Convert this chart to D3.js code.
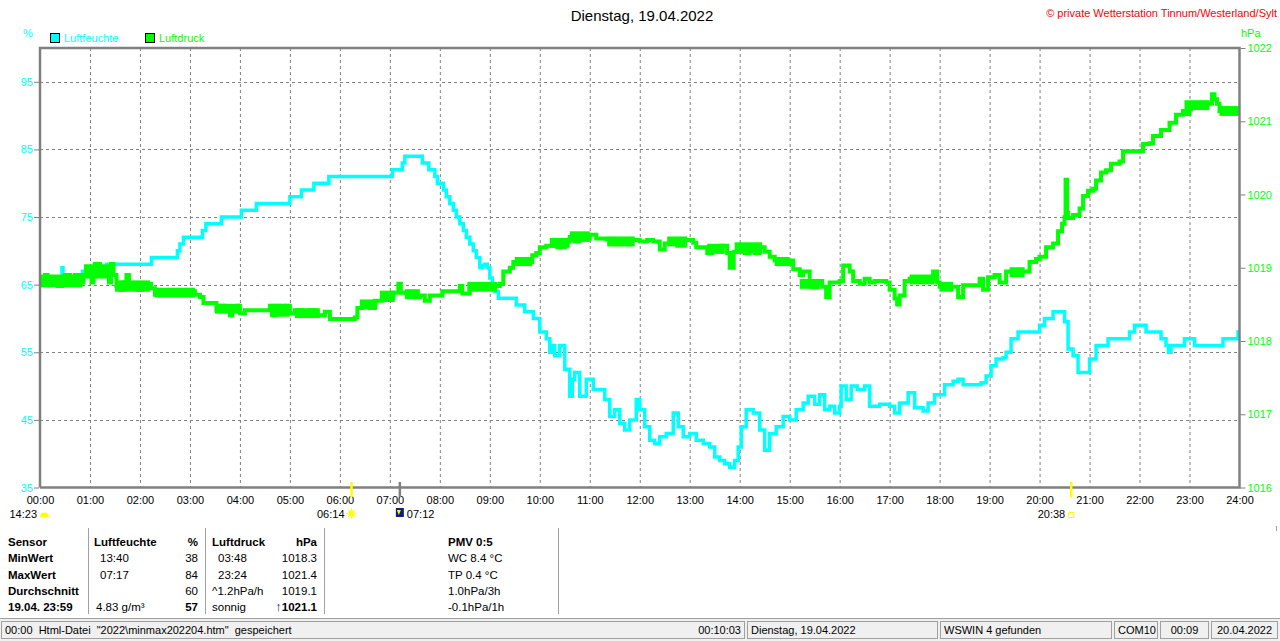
<!DOCTYPE html>
<html>
<head>
<meta charset="utf-8">
<script src="https://cdn.jsdelivr.net/npm/d3@7"></script>
<style>
  body { margin: 0; background: #fff; }
  text { font-family: "Liberation Sans", Arial, sans-serif; }
</style>
</head>
<body>
<script>
const width = 1280;
const height = 641;

// --- data ---
const title = "Dienstag, 19.04.2022";
const copyright = "\u00a9 private Wetterstation Tinnum/Westerland/Sylt";
const seriesNames = ["Luftfeuchte", "Luftdruck"];

const hourLabels = ["00:00","01:00","02:00","03:00","04:00","05:00","06:00","07:00","08:00",
  "09:00","10:00","11:00","12:00","13:00","14:00","15:00","16:00","17:00","18:00","19:00",
  "20:00","21:00","22:00","23:00","24:00"];
const humTicks = [35, 45, 55, 65, 75, 85, 95];
const presTicks = [1016, 1017, 1018, 1019, 1020, 1021, 1022];

// [hour, %]
const humidity = [[0,66],[0.42,66],[0.44,67.5],[0.46,66],[0.83,66],[0.85,67],[1.3,67],[1.33,68],
  [2.2,68],[2.23,69],[2.72,69],[2.75,70],[2.8,71],[2.87,72],[3.2,72],[3.25,73],[3.32,74],[3.6,74],
  [3.63,75],[4.0,75],[4.03,76],[4.3,76],[4.33,77],[4.97,77],[5.0,78],[5.2,78],[5.23,79],[5.45,79],
  [5.48,80],[5.75,80],[5.78,81],[7.03,81],[7.05,82],[7.2,82],[7.25,83],[7.3,84],[7.63,84],[7.65,83],
  [7.75,83],[7.78,82],[7.87,82],[7.9,81],[7.95,80],[8.0,80],[8.07,79],[8.13,78],[8.2,77],[8.27,76],
  [8.33,75],[8.4,74],[8.47,73],[8.53,72],[8.6,71],[8.67,70],[8.73,69],[8.8,67.5],[8.85,67.8],
  [8.9,68],[8.95,67.5],[9.0,66],[9.05,65],[9.1,64],[9.17,63],[9.5,63],[9.53,62],[9.7,61],[9.87,60],[10.0,58],
  [10.13,57],[10.2,55],[10.25,56],[10.3,54.5],[10.4,56],[10.5,52.5],[10.6,48.5],[10.65,51],[10.7,52],
  [10.8,48.5],[10.93,51],[11.07,49.5],[11.2,49.5],[11.3,48],[11.4,45.5],[11.5,46.5],[11.6,44.5],
  [11.7,43.5],[11.8,45],[11.93,48],[12.0,46.5],[12.1,44],[12.2,42],[12.3,41.5],[12.4,42.5],[12.53,43],
  [12.67,46],[12.77,44],[12.87,42.5],[13.0,43],[13.13,42],[13.27,41.5],[13.4,41],[13.5,39.5],[13.6,39],
  [13.7,38.5],[13.8,38],[13.9,39],[13.97,41],[14.03,44],[14.13,46.5],[14.27,46],[14.4,43.5],[14.5,40.5],
  [14.6,43],[14.73,44],[14.87,45.5],[15.0,45],[15.13,46.5],[15.27,47.5],[15.37,48.5],[15.5,47.3],
  [15.6,48.7],[15.7,46.5],[15.8,47],[15.9,46],[16.0,47],[16.03,50],[16.13,48],[16.23,50],[16.35,49.5],
  [16.5,50],[16.6,47],[16.8,47.3],[17.0,47],[17.1,46],[17.2,47.5],[17.37,49],[17.5,46.8],[17.67,46.3],
  [17.77,47.5],[17.9,48.7],[18.0,48.7],[18.1,50.2],[18.27,50.7],[18.37,51],[18.47,50.2],[18.67,50.2],
  [18.83,50.5],[18.93,51.5],[19.03,53],[19.13,54],[19.27,54.2],[19.33,55],[19.43,57],[19.57,58],
  [19.97,58],[20.0,59],[20.1,60],[20.27,61],[20.43,61],[20.5,59.5],[20.57,55.5],[20.67,54.5],[20.77,52],
  [20.9,52],[21.0,54],[21.13,56],[21.37,57],[21.77,57],[21.8,58],[21.9,59],[22.1,59],[22.13,58],
  [22.37,58],[22.43,57],[22.53,56],[22.58,55],[22.63,56],[22.87,56],[22.9,57],[23.07,57],[23.1,56],
  [23.63,56],[23.67,57],[23.93,57],[23.97,58],[24,58]];

// [hour, hPa]
const pressure = [[0,1018.8],[0.1,1018.9],[0.15,1018.8],[0.3,1018.8],[0.35,1018.75],[0.45,1018.8],
  [0.5,1018.9],[0.6,1018.8],[0.7,1018.9],[0.8,1018.8],[0.87,1018.9],[1.0,1018.95],[1.03,1018.8],
  [1.07,1018.95],[1.1,1019.05],[1.2,1019.0],[1.25,1018.9],[1.3,1018.95],[1.38,1018.8],[1.42,1019.05],
  [1.47,1018.9],[1.53,1018.75],[1.6,1018.7],[1.67,1018.8],[1.73,1018.9],[1.78,1018.75],[1.9,1018.78],
  [1.95,1018.7],[2.05,1018.78],[2.15,1018.78],[2.22,1018.72],[2.3,1018.63],[2.45,1018.68],[2.55,1018.63],
  [2.7,1018.68],[2.8,1018.63],[2.95,1018.68],[3.1,1018.63],[3.2,1018.6],[3.27,1018.52],[3.45,1018.52],
  [3.53,1018.42],[3.6,1018.48],[3.7,1018.42],[3.8,1018.35],[3.85,1018.45],[3.95,1018.48],[4.0,1018.38],
  [4.1,1018.42],[4.5,1018.42],[4.6,1018.48],[4.65,1018.35],[4.72,1018.48],[4.8,1018.38],[4.9,1018.48],
  [5.0,1018.38],[5.1,1018.42],[5.25,1018.35],[5.4,1018.42],[5.5,1018.35],[5.7,1018.4],[5.8,1018.3],
  [6.3,1018.32],[6.35,1018.45],[6.45,1018.48],[6.6,1018.45],[6.7,1018.55],[6.85,1018.58],[7.0,1018.6],
  [7.07,1018.66],[7.17,1018.78],[7.22,1018.66],[7.4,1018.66],[7.5,1018.6],[7.6,1018.62],[7.7,1018.55],
  [7.8,1018.62],[8.0,1018.62],[8.05,1018.68],[8.3,1018.68],[8.4,1018.75],[8.45,1018.65],[8.6,1018.72],
  [8.8,1018.75],[9.0,1018.75],[9.2,1018.78],[9.27,1018.95],[9.4,1019.0],[9.47,1019.08],[9.8,1019.08],
  [9.85,1019.17],[9.93,1019.2],[10.0,1019.28],[10.13,1019.3],[10.3,1019.33],[10.35,1019.28],
  [10.5,1019.36],[10.6,1019.42],[10.7,1019.36],[10.8,1019.45],[10.9,1019.4],[11.0,1019.45],
  [11.13,1019.4],[11.33,1019.39],[11.4,1019.32],[11.6,1019.38],[11.7,1019.32],[11.8,1019.38],
  [12.0,1019.36],[12.15,1019.38],[12.27,1019.36],[12.4,1019.25],[12.5,1019.33],[12.6,1019.38],
  [12.75,1019.3],[12.9,1019.38],[13.07,1019.34],[13.13,1019.28],[13.3,1019.28],[13.35,1019.2],
  [13.45,1019.28],[13.55,1019.22],[13.65,1019.3],[13.75,1019.2],[13.8,1019.0],[13.88,1019.22],
  [14.0,1019.3],[14.1,1019.2],[14.2,1019.3],[14.3,1019.2],[14.4,1019.28],[14.5,1019.22],[14.6,1019.15],
  [14.7,1019.1],[14.8,1019.12],[14.9,1019.05],[15.0,1019.1],[15.07,1018.98],[15.2,1018.9],
  [15.27,1018.95],[15.4,1018.8],[15.47,1018.73],[15.55,1018.82],[15.65,1018.74],[15.73,1018.6],
  [15.8,1018.8],[16.0,1018.82],[16.07,1019.03],[16.2,1018.95],[16.27,1018.82],[16.4,1018.78],
  [16.5,1018.85],[16.6,1018.8],[16.7,1018.82],[16.93,1018.8],[17.0,1018.7],[17.1,1018.58],
  [17.15,1018.5],[17.2,1018.62],[17.3,1018.82],[17.4,1018.85],[17.6,1018.82],[17.8,1018.85],
  [17.87,1018.95],[17.95,1018.8],[18.0,1018.74],[18.27,1018.74],[18.37,1018.6],[18.47,1018.76],
  [18.73,1018.76],[18.8,1018.85],[18.87,1018.7],[18.97,1018.87],[19.1,1018.9],[19.2,1018.8],
  [19.33,1018.95],[19.73,1018.95],[19.8,1019.08],[19.93,1019.12],[20.0,1019.15],[20.13,1019.28],
  [20.27,1019.33],[20.37,1019.5],[20.45,1019.6],[20.5,1019.69],[20.52,1020.2],[20.55,1019.75],
  [20.57,1019.68],[20.67,1019.72],[20.8,1019.81],[20.87,1019.98],[20.97,1020.05],[21.07,1020.08],
  [21.13,1020.19],[21.23,1020.3],[21.33,1020.33],[21.43,1020.42],[21.6,1020.45],[21.67,1020.59],
  [22.0,1020.59],[22.07,1020.69],[22.2,1020.7],[22.27,1020.8],[22.4,1020.8],[22.43,1020.88],
  [22.53,1020.88],[22.6,1020.98],[22.67,1020.98],[22.73,1021.09],[22.8,1021.09],[22.87,1021.14],
  [22.95,1021.1],[23.0,1021.16],[23.03,1021.24],[23.43,1021.24],[23.45,1021.37],[23.5,1021.3],
  [23.55,1021.24],[23.6,1021.14],[24,1021.14]];

// stretches where the pressure reading flickers between two levels: [from, to, low, high]
const pressureFlicker = [[0.0,0.85,1018.76,1018.88],[0.88,1.45,1018.88,1019.02],[1.5,2.2,1018.7,1018.8],
  [2.3,3.1,1018.62,1018.7],[3.5,4.0,1018.4,1018.48],[4.6,5.0,1018.36,1018.48],[5.1,5.6,1018.34,1018.42],
  [6.4,6.75,1018.46,1018.54],[6.8,7.1,1018.56,1018.66],[7.3,7.6,1018.6,1018.68],[8.55,9.15,1018.7,1018.78],
  [9.5,9.85,1019.05,1019.12],[10.2,10.6,1019.3,1019.38],[10.6,11.0,1019.38,1019.47],
  [11.35,11.9,1019.32,1019.4],[12.55,12.95,1019.32,1019.4],[13.35,13.7,1019.22,1019.3],
  [13.9,14.45,1019.22,1019.32],[14.7,15.0,1019.05,1019.12],[15.2,15.6,1018.74,1018.82],
  [17.4,17.9,1018.8,1018.88],[18.0,18.27,1018.7,1018.78],[19.4,19.7,1018.9,1018.98],
  [22.9,23.4,1021.18,1021.26],[23.6,24.0,1021.1,1021.18]];

// sun / moon events below the axis: [hour, label, kind]
const events = [[0, "14:23", "moonset"], [6.233, "06:14", "sunrise"], [7.2, "07:12", "moonrise"], [20.633, "20:38", "sunset"]];

// summary table
const tableCol1 = ["Sensor", "MinWert", "MaxWert", "Durchschnitt", "19.04. 23:59"];
const humCol = [["Luftfeuchte", "%"], ["13:40", "38"], ["07:17", "84"], ["", "60"], ["4.83 g/m\u00b3", "57"]];
const presCol = [["Luftdruck", "hPa"], ["03:48", "1018.3"], ["23:24", "1021.4"], ["^1.2hPa/h", "1019.1"], ["sonnig", "1021.1"]];
const pmvCol = ["PMV 0:5", "WC 8.4 \u00b0C", "TP 0.4 \u00b0C", "1.0hPa/3h", "-0.1hPa/1h"];

// status bar panels: [x0, x1, text, align]
const statusPanels = [[1, 745, "00:10:03", "end"], [747, 938, "Dienstag, 19.04.2022", "start"],
  [940, 1112, "WSWIN 4 gefunden", "start"], [1114, 1158, "COM10", "start"],
  [1160, 1209, "00:09", "middle"], [1211, 1278, "20.04.2022", "middle"]];
const statusMessage = "00:00  Html-Datei  \"2022\\minmax202204.htm\"  gespeichert";

// --- layout ---
const plot = { left: 40, right: 1239.5, top: 48, bottom: 487.5 };
const cyan = "#00ffff";
const green = "#00ff00";
const grid = "#808080";

const svg = d3.select("body")
    .append("svg")
    .attr("width", width)
    .attr("height", height);

const x = d3.scaleLinear().domain([0, 24]).range([plot.left, plot.right]);
const yHum = d3.scaleLinear().domain([35, 100]).range([plot.bottom, plot.top]);
const yPres = d3.scaleLinear().domain([1016, 1022]).range([plot.bottom, plot.top]);

// title + copyright
svg.append("text")
    .attr("x", 642).attr("y", 21)
    .attr("text-anchor", "middle")
    .attr("font-size", 15)
    .text(title);

svg.append("text")
    .attr("x", 1277).attr("y", 17)
    .attr("text-anchor", "end")
    .attr("font-size", 11)
    .attr("fill", "#ff0000")
    .text(copyright);

// units
svg.append("text").attr("x", 23).attr("y", 37).attr("font-size", 11).attr("fill", cyan).text("%");
svg.append("text").attr("x", 1241).attr("y", 37).attr("font-size", 11).attr("fill", green).text("hPa");

// legend
const legend = svg.append("g");
[[50, cyan, seriesNames[0]], [145, green, seriesNames[1]]].forEach(([lx, c, name]) => {
  legend.append("rect")
      .attr("x", lx + 0.5).attr("y", 33.5)
      .attr("width", 9).attr("height", 9)
      .attr("fill", c).attr("stroke", "#000");
  legend.append("text")
      .attr("x", lx + 14).attr("y", 42)
      .attr("font-size", 11)
      .attr("fill", c)
      .text(name);
});

// grid
const gridG = svg.append("g")
    .attr("stroke", grid)
    .attr("stroke-dasharray", "3,3");

gridG.selectAll("line.v")
    .data(d3.range(1, 24))
    .enter().append("line")
    .attr("x1", d => x(d) + 0.5).attr("x2", d => x(d) + 0.5)
    .attr("y1", plot.top).attr("y2", plot.bottom);

gridG.selectAll("line.h")
    .data(humTicks.slice(1))
    .enter().append("line")
    .attr("x1", plot.left).attr("x2", plot.right)
    .attr("y1", d => Math.round(yHum(d)) + 0.5).attr("y2", d => Math.round(yHum(d)) + 0.5);

// series
const line = (ys) => d3.line()
    .x(d => x(d[0]))
    .y(d => ys(d[1]))
    .curve(d3.curveStepAfter);

svg.append("path")
    .datum(humidity)
    .attr("d", line(yHum))
    .attr("fill", "none")
    .attr("stroke", cyan)
    .attr("stroke-width", 3.5)
    .attr("stroke-linejoin", "miter");

svg.append("g")
    .selectAll("rect")
    .data(pressureFlicker)
    .enter().append("rect")
    .attr("x", d => x(d[0]))
    .attr("width", d => x(d[1]) - x(d[0]))
    .attr("y", d => yPres(d[3]) - 2)
    .attr("height", d => yPres(d[2]) - yPres(d[3]) + 4)
    .attr("fill", green);

svg.append("path")
    .datum(pressure)
    .attr("d", line(yPres))
    .attr("fill", "none")
    .attr("stroke", green)
    .attr("stroke-width", 4)
    .attr("stroke-linejoin", "miter");

// frame
svg.append("path")
    .attr("d", `M${plot.left},${plot.bottom}V${plot.top}H${plot.right}V${plot.bottom}H${plot.left}`)
    .attr("fill", "none")
    .attr("stroke", grid)
    .attr("stroke-width", 2.5);

// axes
const leftAxis = svg.append("g")
    .attr("transform", `translate(${plot.left - 1},0)`)
    .call(d3.axisLeft(yHum).tickValues(humTicks).tickSize(5).tickPadding(1));
leftAxis.select(".domain").remove();
leftAxis.selectAll("line").attr("stroke", grid);
leftAxis.selectAll("text")
    .attr("fill", cyan)
    .attr("font-size", 11)
    .attr("font-family", "Liberation Sans, Arial, sans-serif");

const rightAxis = svg.append("g")
    .attr("transform", `translate(${plot.right + 1},0)`)
    .call(d3.axisRight(yPres).tickValues(presTicks).tickSize(5).tickPadding(2)
      .tickFormat(d3.format("d")));
rightAxis.select(".domain").remove();
rightAxis.selectAll("line").attr("stroke", grid);
rightAxis.selectAll("text")
    .attr("fill", green)
    .attr("font-size", 11)
    .attr("font-family", "Liberation Sans, Arial, sans-serif");

const bottomAxis = svg.append("g")
    .attr("transform", `translate(0,${plot.bottom})`)
    .call(d3.axisBottom(x).tickValues(d3.range(0, 25)).tickSize(0).tickPadding(9)
      .tickFormat(d => hourLabels[d]));
bottomAxis.select(".domain").remove();
bottomAxis.selectAll("text")
    .attr("fill", "#000")
    .attr("font-size", 11)
    .attr("font-family", "Liberation Sans, Arial, sans-serif");

// sun / moon events
const ev = svg.append("g");
events.forEach(([h, label, kind]) => {
  const ex = x(h);
  if (kind === "sunrise" || kind === "sunset") {
    ev.append("line").attr("x1", ex).attr("x2", ex).attr("y1", 482).attr("y2", 497)
        .attr("stroke", "#ffff00").attr("stroke-width", 2.5);
  }
  if (kind === "moonrise") {
    ev.append("line").attr("x1", ex).attr("x2", ex).attr("y1", 482).attr("y2", 497)
        .attr("stroke", grid).attr("stroke-width", 2.5);
  }
  if (kind === "moonset") {
    ev.append("text").attr("x", 37).attr("y", 518).attr("text-anchor", "end")
        .attr("font-size", 11).text(label);
    ev.append("path").attr("d", "M40,517 A4.5,4.5 0 0 1 49,517 Z").attr("fill", "#ffff00");
  } else if (kind === "sunrise") {
    ev.append("text").attr("x", ex - 7).attr("y", 518).attr("text-anchor", "end")
        .attr("font-size", 11).text(label);
    ev.append("circle").attr("cx", ex).attr("cy", 513.5).attr("r", 3.2).attr("fill", "#ffff00");
    d3.range(8).forEach(i => {
      const a = i * Math.PI / 4;
      ev.append("line")
          .attr("x1", ex + Math.cos(a) * 3.5).attr("y1", 513.5 + Math.sin(a) * 3.5)
          .attr("x2", ex + Math.cos(a) * 5).attr("y2", 513.5 + Math.sin(a) * 5)
          .attr("stroke", "#ffff00").attr("stroke-width", 1);
    });
  } else if (kind === "moonrise") {
    ev.append("rect").attr("x", ex - 4).attr("y", 508).attr("width", 8).attr("height", 9).attr("fill", "#101c80");
    ev.append("path").attr("d", `M${ex - 3},510 H${ex + 1} L${ex - 1},515 Z`).attr("fill", "#ffff00");
    ev.append("text").attr("x", ex + 7).attr("y", 518).attr("font-size", 11).text(label);
  } else {
    ev.append("text").attr("x", ex - 6).attr("y", 518).attr("text-anchor", "end")
        .attr("font-size", 11).text(label);
    ev.append("rect").attr("x", ex - 2.5).attr("y", 512.5).attr("width", 5).attr("height", 5)
        .attr("fill", "none").attr("stroke", "#ffff00").attr("stroke-width", 1);
  }
});

// summary table
const table = svg.append("g").attr("font-size", 11.5);
const rowY = i => 546 + i * 16.3;

[88, 205, 324, 558].forEach(lx => {
  table.append("line")
      .attr("x1", lx + 0.5).attr("x2", lx + 0.5)
      .attr("y1", 528).attr("y2", 614)
      .attr("stroke", "#a0a0a0");
});
table.append("line").attr("x1", 1276.5).attr("x2", 1276.5).attr("y1", 526).attr("y2", 531).attr("stroke", "#a0a0a0");

tableCol1.forEach((t, i) => {
  table.append("text").attr("x", 8).attr("y", rowY(i)).attr("font-weight", "bold").text(t);
});

humCol.forEach(([a, b], i) => {
  const bold = i === 0;
  table.append("text").attr("x", i === 0 ? 94 : (i === 4 ? 96 : 100)).attr("y", rowY(i))
      .attr("font-weight", bold ? "bold" : "normal").text(a);
  table.append("text").attr("x", 198).attr("y", rowY(i)).attr("text-anchor", "end")
      .attr("font-weight", bold || i === 4 ? "bold" : "normal").text(b);
});

presCol.forEach(([a, b], i) => {
  const bold = i === 0;
  table.append("text").attr("x", (i === 1 || i === 2) ? 218 : 212).attr("y", rowY(i))
      .attr("font-weight", bold ? "bold" : "normal").text(a);
  const t = table.append("text").attr("x", 317).attr("y", rowY(i)).attr("text-anchor", "end")
      .attr("font-weight", bold || i === 4 ? "bold" : "normal");
  if (i === 4) {
    t.append("tspan").attr("fill", "#0a1450").attr("font-size", 13).text("\u2191");
  }
  t.append("tspan").text(b);
});

pmvCol.forEach((t, i) => {
  table.append("text").attr("x", 448).attr("y", rowY(i))
      .attr("font-weight", i === 0 ? "bold" : "normal").text(t);
});

// status bar
const status = svg.append("g").attr("font-size", 11);
status.append("rect").attr("x", 0).attr("y", 618).attr("width", width).attr("height", 23).attr("fill", "#f0f0f0");
status.append("line").attr("x1", 0).attr("x2", width).attr("y1", 618.5).attr("y2", 618.5).attr("stroke", "#a0a0a0");
statusPanels.forEach(([x0, x1, txt, align]) => {
  status.append("rect")
      .attr("x", x0 + 0.5).attr("y", 621.5)
      .attr("width", x1 - x0 - 1).attr("height", 17)
      .attr("fill", "none").attr("stroke", "#a0a0a0");
  const tx = align === "end" ? x1 - 4 : (align === "middle" ? (x0 + x1) / 2 : x0 + 4);
  status.append("text").attr("x", tx).attr("y", 634).attr("text-anchor", align).text(txt);
});
status.append("text").attr("x", 5).attr("y", 634).attr("xml:space", "preserve")
    .style("white-space", "pre").text(statusMessage);
</script>
</body>
</html>
